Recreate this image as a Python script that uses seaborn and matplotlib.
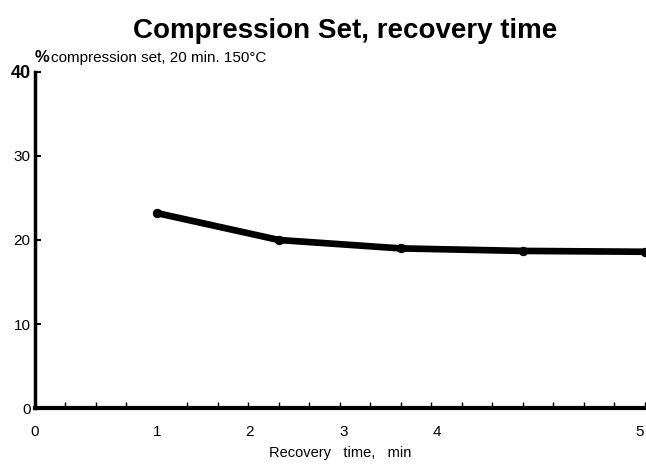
import numpy as np
import pandas as pd
import seaborn as sns
import matplotlib.pyplot as plt
from matplotlib.ticker import MultipleLocator

# dados
recovery_min = [1, 2, 3, 4, 5]
compression_set = [23.2, 20.0, 19.0, 18.7, 18.6]

x_tick_pos = [0, 1, 1.76, 2.53, 3.30, 4.96]
x_tick_labels = ["0", "1", "2", "3", "4", "5"]
y_ticks = [0, 10, 20, 30, 40]

df = pd.DataFrame({"time": recovery_min, "cset": compression_set})

sns.set_theme(style="ticks", rc={"text.color": "black", "axes.labelcolor": "black",
                                 "xtick.color": "black", "ytick.color": "black",
                                 "axes.edgecolor": "black"})
plt.rcParams['font.family'] = ['Liberation Sans', 'DejaVu Sans']

fig = plt.figure(figsize=(6.46, 4.66), dpi=100)
ax = fig.add_axes([0.054, 0.124, 0.944, 0.722])

sns.lineplot(data=df, x="time", y="cset", ax=ax, color="black", linewidth=4.8,
             marker="o", markersize=6, markeredgecolor="black")

ax.set_xlim(0, 5)
ax.set_ylim(0, 40)
ax.set_xticks(x_tick_pos)
ax.set_xticklabels(x_tick_labels, fontsize=11)
ax.set_yticks(y_ticks)
ax.set_yticklabels([str(v) for v in y_ticks], fontsize=11)
top_lbl = ax.get_yticklabels()[-1]
top_lbl.set_fontweight("bold")
top_lbl.set_fontsize(13)
ax.xaxis.set_minor_locator(MultipleLocator(0.25))
ax.tick_params(axis="x", which="major", direction="in", length=0, pad=12)
ax.tick_params(axis="x", which="minor", direction="in", length=4, width=1)
ax.tick_params(axis="y", direction="in", length=4, width=1.5, pad=3)

sns.despine(ax=ax)
ax.spines["left"].set_linewidth(2.5)
ax.spines["bottom"].set_linewidth(3)
ax.set_xlabel("Recovery   time,   min", fontsize=10.5, labelpad=5)
ax.set_ylabel("")

ax.text(0.0, 1.02, "%", transform=ax.transAxes, fontsize=12,
        fontweight="bold", ha="left", va="bottom")
ax.text(0.026, 1.02, "compression set, 20 min. 150°C", transform=ax.transAxes,
        fontsize=11, ha="left", va="bottom")
fig.suptitle("Compression Set, recovery time", x=0.535, y=0.962, fontsize=20,
             fontweight="bold", va="top")

plt.savefig("out.png", dpi=100)
